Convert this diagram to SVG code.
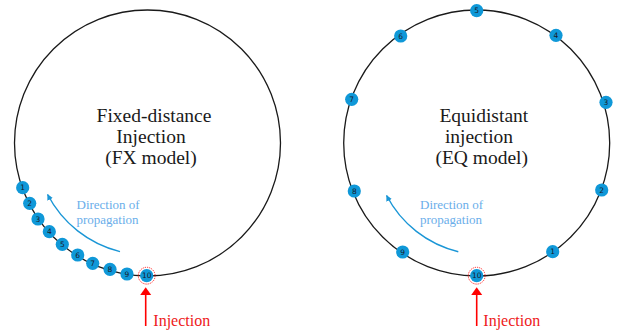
<svg xmlns="http://www.w3.org/2000/svg" width="621" height="336" viewBox="0 0 621 336">
<defs>
<style>
.ring{fill:none;stroke:#1a1a1a;stroke-width:1.3}
.nd{fill:#0f98d8}
.nl{font-family:"DejaVu Sans",Arial,sans-serif;font-size:7.5px;fill:#1a1a2a;text-anchor:middle}
.inj{fill:none;stroke:#ff2020;stroke-width:1;stroke-dasharray:1.2 1}
.title{font-family:"Liberation Serif","Times New Roman",serif;font-size:19.5px;fill:#1a1a1a;text-anchor:middle}
.dir{font-family:"Liberation Serif","Times New Roman",serif;font-size:13px;fill:#6aaeea}
.darr{fill:none;stroke:#1a96d6;stroke-width:1.4}
.rarr{stroke:#ff0000;stroke-width:1.6}
.rtxt{font-family:"Liberation Serif","Times New Roman",serif;font-size:16px;fill:#ee2020}
</style>
<marker id="bh" viewBox="0 0 10 10" refX="9" refY="5" markerWidth="6" markerHeight="6" markerUnits="userSpaceOnUse" orient="auto">
<path d="M0,0 L10,5 L0,10 z" fill="#1a96d6"/>
</marker>
</defs>
<g id="rings">
<circle class="ring" cx="147.5" cy="143" r="133"/>
<circle class="ring" cx="476.7" cy="143" r="133"/>
</g>
<g id="titles">
<text class="title" x="154" y="121.5">Fixed-distance</text>
<text class="title" x="151" y="142.5">Injection</text>
<text class="title" x="151" y="163.5">(FX model)</text>
<text class="title" x="483.8" y="121.5">Equidistant</text>
<text class="title" x="479" y="142.5">injection</text>
<text class="title" x="481.7" y="163.5">(EQ model)</text>
</g>
<g id="connectors">
<path class="darr" d="M120,251.6 A112,112 0 0 1 47.6,194.5" marker-end="url(#bh)"/>
<path class="darr" d="M458.3,251.7 A110,110 0 0 1 386.6,195.5" marker-end="url(#bh)"/>
<line class="rarr" x1="145.7" y1="326" x2="145.7" y2="294"/>
<path d="M140.2,295 L145.7,287.3 L151.2,295 z" fill="#ff0000"/>
<line class="rarr" x1="476.7" y1="326" x2="476.7" y2="294"/>
<path d="M471.2,295 L476.7,287.3 L482.2,295 z" fill="#ff0000"/>
</g>
<g id="labels">
<text class="dir" x="76.5" y="209.3">Direction of</text>
<text class="dir" x="76.5" y="223.5">propagation</text>
<text class="dir" x="420" y="209.3">Direction of</text>
<text class="dir" x="420" y="223.5">propagation</text>
<text class="rtxt" x="153.3" y="325.5">Injection</text>
<text class="rtxt" x="483.3" y="325.5">Injection</text>
</g>
<g id="fx-nodes">
<g id="fx1"><circle class="nd" cx="22.7" cy="187.7" r="6.6"/><text class="nl" x="22.7" y="190.4">1</text></g>
<g id="fx2"><circle class="nd" cx="29.7" cy="203.3" r="6.6"/><text class="nl" x="29.7" y="206">2</text></g>
<g id="fx3"><circle class="nd" cx="38" cy="219" r="6.6"/><text class="nl" x="38" y="221.7">3</text></g>
<g id="fx4"><circle class="nd" cx="49.3" cy="231.7" r="6.6"/><text class="nl" x="49.3" y="234.4">4</text></g>
<g id="fx5"><circle class="nd" cx="62.3" cy="244.3" r="6.6"/><text class="nl" x="62.3" y="247">5</text></g>
<g id="fx6"><circle class="nd" cx="77.7" cy="255" r="6.6"/><text class="nl" x="77.7" y="257.7">6</text></g>
<g id="fx7"><circle class="nd" cx="92.7" cy="263.3" r="6.6"/><text class="nl" x="92.7" y="266">7</text></g>
<g id="fx8"><circle class="nd" cx="110" cy="269.3" r="6.6"/><text class="nl" x="110" y="272">8</text></g>
<g id="fx9"><circle class="nd" cx="127" cy="274" r="6.6"/><text class="nl" x="127" y="276.7">9</text></g>
<g id="fx10"><circle class="inj" cx="146.7" cy="275.7" r="8.4"/><circle class="nd" cx="146.7" cy="275.7" r="6.6"/><text class="nl" x="146.7" y="278.4">10</text></g>
</g>
<g id="eq-nodes">
<g id="eq1"><circle class="nd" cx="552.7" cy="251.7" r="6.6"/><text class="nl" x="552.7" y="254.4">1</text></g>
<g id="eq2"><circle class="nd" cx="601.7" cy="190" r="6.6"/><text class="nl" x="601.7" y="192.7">2</text></g>
<g id="eq3"><circle class="nd" cx="606" cy="102.3" r="6.6"/><text class="nl" x="606" y="105">3</text></g>
<g id="eq4"><circle class="nd" cx="556" cy="35.3" r="6.6"/><text class="nl" x="556" y="38">4</text></g>
<g id="eq5"><circle class="nd" cx="476.7" cy="10.7" r="6.6"/><text class="nl" x="476.7" y="13.4">5</text></g>
<g id="eq6"><circle class="nd" cx="400.7" cy="36" r="6.6"/><text class="nl" x="400.7" y="38.7">6</text></g>
<g id="eq7"><circle class="nd" cx="351.7" cy="99.3" r="6.6"/><text class="nl" x="351.7" y="102">7</text></g>
<g id="eq8"><circle class="nd" cx="354.3" cy="191" r="6.6"/><text class="nl" x="354.3" y="193.7">8</text></g>
<g id="eq9"><circle class="nd" cx="402.7" cy="252" r="6.6"/><text class="nl" x="402.7" y="254.7">9</text></g>
<g id="eq10"><circle class="inj" cx="476.7" cy="275.7" r="8.4"/><circle class="nd" cx="476.7" cy="275.7" r="6.6"/><text class="nl" x="476.7" y="278.4">10</text></g>
</g>
</svg>
